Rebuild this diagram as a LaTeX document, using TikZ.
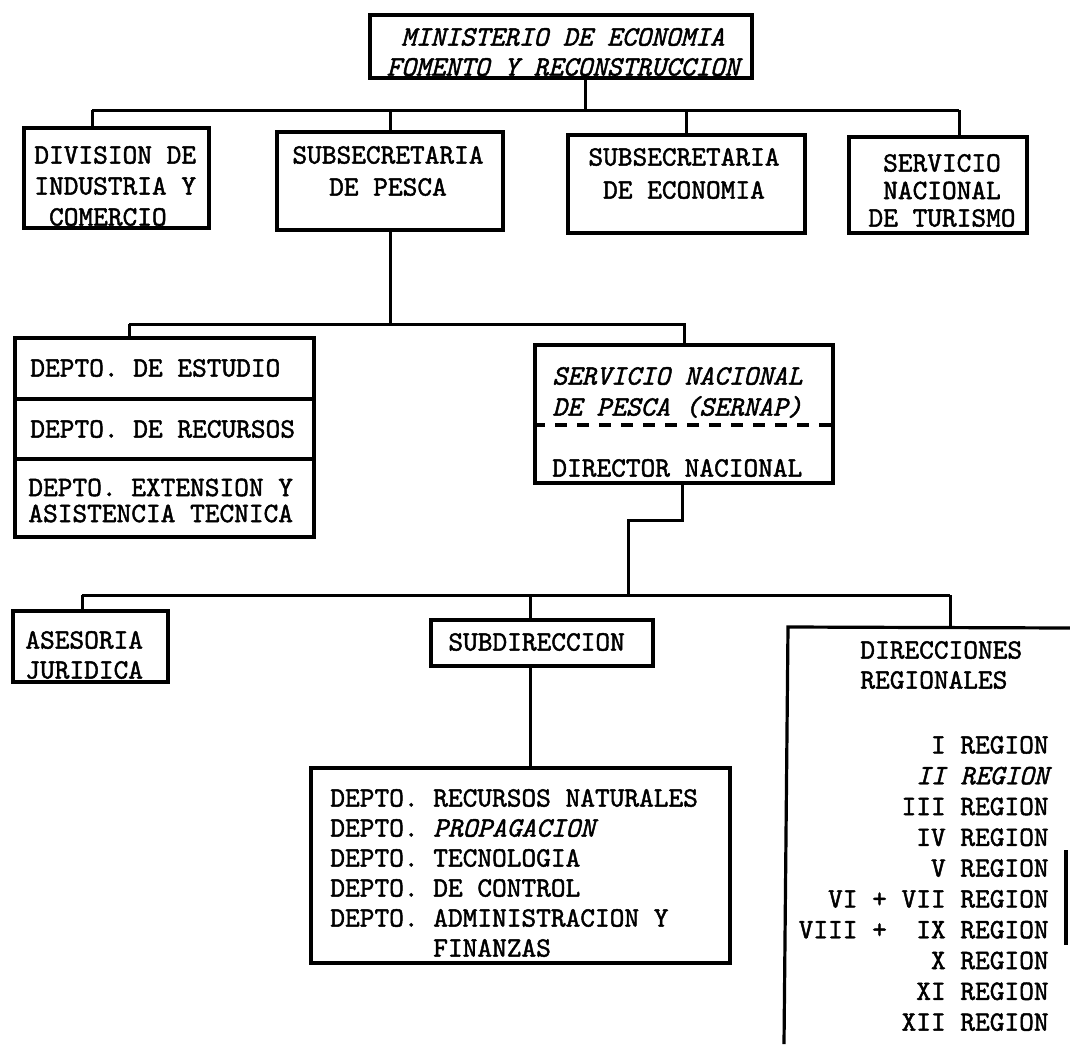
\documentclass[tikz,border=0pt]{standalone}
\usepackage{fontspec}
\setmonofont[FakeBold=1.6, ItalicFont=lmmono10-italic.otf]{lmmono10-regular.otf}
\begin{document}
\begin{tikzpicture}[x=0.5pt,y=-0.5pt,
  txt/.style={font=\ttfamily\fontsize{14}{15}\selectfont, inner sep=0pt},
  txti/.style={font=\ttfamily\itshape\fontsize{14}{15.5}\selectfont, inner sep=0pt},
  box/.style={draw, line width=1.6pt, inner sep=0pt},
  conn/.style={line width=1.5pt},
  dashline/.style={line width=1.6pt, dash pattern=on 6pt off 5pt}
]
\useasboundingbox (0,0) rectangle (1070,1044);

% ---- boxes ----
\node[box, minimum width=191pt, minimum height=31.5pt] (mins) at (561,46.5) {};
\node[box, minimum width=92.5pt, minimum height=50pt] (div) at (116.5,178) {};
\node[box, minimum width=113pt, minimum height=49pt] (pesca) at (390,181) {};
\node[box, minimum width=118.5pt, minimum height=49pt] (econ) at (686.5,184) {};
\node[box, minimum width=89pt, minimum height=48pt] (tur) at (938,185) {};

\node[box, minimum width=149.5pt, minimum height=30.5pt] (d1) at (164.5,368.5) {};
\node[box, minimum width=149.5pt, minimum height=30pt] (d2) at (164.5,429) {};
\node[box, minimum width=149.5pt, minimum height=39pt] (d3) at (164.5,498) {};

\node[box, minimum width=149pt, minimum height=69pt] (sernap) at (684,414) {};
\node[box, minimum width=77.5pt, minimum height=35.5pt] (ases) at (90.5,646.5) {};
\node[box, minimum width=111pt, minimum height=23pt] (subd) at (542,643) {};
\node[box, minimum width=209.5pt, minimum height=97.5pt] (list) at (520.5,865.5) {};

% ---- texts ----
\node[txti, font=\ttfamily\itshape\fontsize{14}{15}\selectfont, align=center] (minsT) at (563,52) {MINISTERIO DE ECONOMIA\\FOMENTO Y RECONSTRUCCION};
\node[txt, font=\ttfamily\fontsize{14}{15.5}\selectfont, align=left, anchor=west] (divT) at (34,186) {DIVISION DE\\INDUSTRIA Y\\\phantom{X}COMERCIO};
\node[txt, font=\ttfamily\fontsize{14}{16}\selectfont, align=center] (pescaT) at (388,171) {SUBSECRETARIA\\DE PESCA};
\node[txt, font=\ttfamily\fontsize{14}{16.5}\selectfont, align=center] (econT) at (684,173.5) {SUBSECRETARIA\\DE ECONOMIA};
\node[txt, font=\ttfamily\fontsize{14}{13.75}\selectfont, align=center] (turT) at (942,190.5) {SERVICIO\\NACIONAL\\DE TURISMO};

\node[txt, anchor=west] (d1T) at (30,368) {DEPTO. DE ESTUDIO};
\node[txt, anchor=west] (d2T) at (30,429) {DEPTO. DE RECURSOS};
\node[txt, font=\ttfamily\fontsize{14}{13}\selectfont, align=left, anchor=west] (d3T) at (28,500.5) {DEPTO. EXTENSION Y\\ASISTENCIA TECNICA};

\node[txti, align=left, anchor=west] (sernT) at (552,392.5) {SERVICIO NACIONAL\\DE PESCA (SERNAP)};
\node[txt, anchor=west] (dirnT) at (552,468) {DIRECTOR NACIONAL};

\node[txt, align=left, anchor=west] (asesT) at (25,655) {ASESORIA\\JURIDICA};
\node[txt, anchor=west] (subdT) at (448,642) {SUBDIRECCION};
\node[txt, align=left, anchor=west] (listT) at (330,873) {DEPTO. RECURSOS NATURALES\\DEPTO. {\itshape PROPAGACION}\\DEPTO. TECNOLOGIA\\DEPTO. DE CONTROL\\DEPTO. ADMINISTRACION Y\\\phantom{DEPTO. }FINANZAS};

\node[txt, align=left, anchor=west] (dirhT) at (860,665) {DIRECCIONES\\REGIONALES};
\node[txt, font=\ttfamily\fontsize{14}{15.4}\selectfont, align=right, anchor=east] (regT) at (1049,883.5) {I REGION\\{\itshape II REGION}\\III REGION\\IV REGION\\V REGION\\VI + VII REGION\\VIII +\ \ IX REGION\\X REGION\\XI REGION\\XII REGION};

% ---- dashed divider in SERNAP ----
\coordinate (dashy) at (0,425);
\draw[dashline] (sernap.west |- dashy) -- (sernap.east |- dashy);

% ---- open box of Direcciones Regionales ----
\coordinate (dirTL) at (788,627);
\coordinate (dirBL) at (784,1044);
\coordinate (dirTR) at (1070,628);
\coordinate (dirRT) at (1066,850);
\coordinate (dirRB) at (1066,945);
\draw[box] (dirBL) -- (dirTL) -- (dirTR);
\draw[box] (dirRT) -- (dirRB);

% ---- connectors level 1 ----
\coordinate (j1) at (585,110);
\coordinate (b1L) at (92,110);
\coordinate (b1R) at (959,110);
\draw[conn] (mins.south -| j1) -- (j1);
\draw[conn] (b1L) -- (b1R);
\draw[conn] (b1L) -- (b1L |- div.north);
\draw[conn] (pesca.north |- b1L) -- (pesca.north);
\draw[conn] (econ.north |- b1L) -- (econ.north);
\draw[conn] (b1R) -- (b1R |- tur.north);

% ---- connectors level 2 ----
\coordinate (b2L) at (129,324);
\draw[conn] (pesca.south) -- (pesca.south |- b2L);
\draw[conn] (b2L) -- (sernap.north |- b2L) -- (sernap.north);
\draw[conn] (b2L) -- (b2L |- d1.north);

% ---- connectors level 3 ----
\coordinate (s1) at (682,520);
\coordinate (s2) at (628,520);
\coordinate (b3L) at (82,595);
\coordinate (b3R) at (950,595);
\coordinate (b3S) at (530,595);
\draw[conn] (sernap.south -| s1) -- (s1) -- (s2) -- (s2 |- b3L);
\draw[conn] (b3L) -- (b3R);
\draw[conn] (b3L) -- (b3L |- ases.north);
\draw[conn] (b3S) -- (b3S |- subd.north);
\draw[conn] (b3R) -- (b3R |- dirTL);
\draw[conn] (subd.south -| b3S) -- (b3S |- list.north);
\end{tikzpicture}
\end{document}
